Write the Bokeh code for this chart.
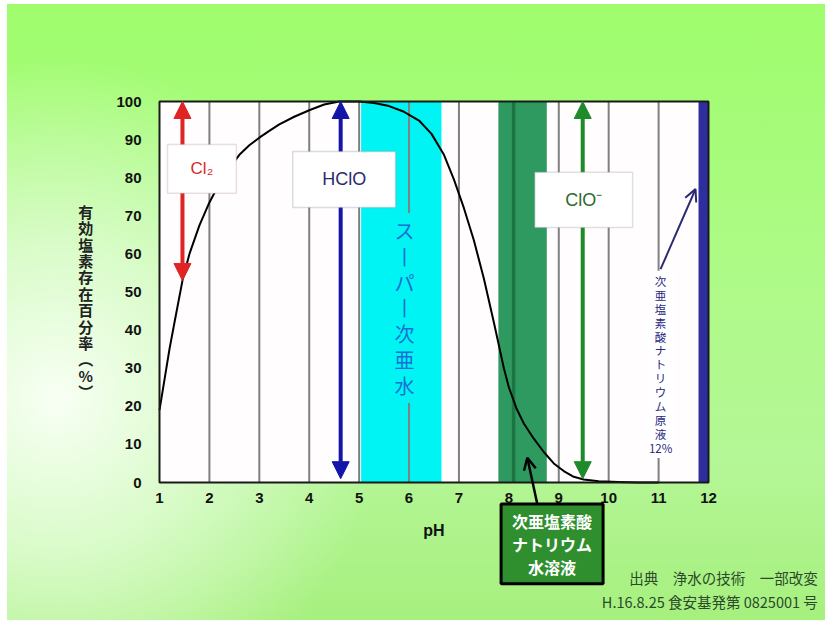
from bokeh.plotting import figure
from bokeh.models import (Range1d, FixedTicker, Label, Arrow, NormalHead, OpenHead,
                          BoxAnnotation, LinearAxis)
from bokeh.embed import file_html
from bokeh.resources import INLINE

# ---------------- data ----------------
ph = [1.0, 1.1, 1.2, 1.3, 1.46, 1.6, 1.8, 2.0, 2.2, 2.4, 2.6, 2.8, 3.0, 3.2, 3.4,
      3.7, 4.0, 4.3, 4.6, 5.0, 5.3, 5.6, 5.9, 6.2, 6.45, 6.7, 6.9, 7.1, 7.3, 7.5,
      7.7, 7.9, 8.0, 8.15, 8.3, 8.5, 8.7, 8.9, 9.1, 9.3, 9.5, 9.8, 10.2, 10.6, 11.0]
pct = [19, 27, 35, 42, 53, 60, 67.5, 73.5, 78.5, 82.5, 86, 88.5, 90.5, 92.3, 94,
       96, 97.7, 99.2, 100, 100, 99.6, 98.8, 97.3, 95, 91.5, 86, 79.5, 72, 63.5, 53.5,
       42, 30, 25, 19.5, 15.5, 11.5, 8, 5, 3, 1.5, 0.8, 0.3, 0.1, 0, 0]

x_ticks = list(range(1, 13))
y_ticks = list(range(0, 101, 10))
grid_ph = [2, 3, 4, 5, 6, 7, 9, 10, 11]

super_band = [5.04, 6.65]      # スーパー次亜水
naclo_band = [7.79, 8.76]      # 次亜塩素酸ナトリウム水溶液
naclo_line = [8.06, 8.13]
stock_band = [11.8, 12.0]      # 原液 12%

cl2_ph, cl2_range = 1.46, [53, 100]
hclo_ph, hclo_range = 4.63, [1, 100]
clo_ph, clo_range = 9.48, [1, 100]

cl2_box = [1.16, 2.54, 75.9, 88.7]
hclo_box = [3.67, 5.73, 72.2, 86.9]
clo_box = [8.52, 10.48, 66.9, 81.4]

JP = "Noto Sans CJK JP"
LAT = "Liberation Sans"

# frame covers the whole canvas; pH 1..12 -> 549 px, 0..100 % -> 381 px
PX_X = 549 / 11
PX_Y = 381 / 100
x0 = 1 - 152 / PX_X
y1 = 100 + 97 / PX_Y
y0 = -138 / PX_Y

p = figure(width=818, height=616,
           x_range=Range1d(x0, x0 + 818 / PX_X), y_range=Range1d(y0, y1),
           output_backend="svg", toolbar_location=None,
           x_axis_location=None, y_axis_location=None,
           min_border=0, min_border_left=0, min_border_right=0,
           min_border_top=0, min_border_bottom=0)
p.border_fill_color = None
p.background_fill_color = None
p.outline_line_color = None
p.xgrid.visible = False
p.ygrid.visible = False
p.styles = {
    "margin-left": "7px",
    "margin-top": "4px",
    "background": "radial-gradient(ellipse 40% 55% at 6% 64%, rgba(248,255,244,1) 0%, rgba(222,252,208,0.9) 45%, rgba(180,248,150,0) 100%), "
                  "linear-gradient(180deg, #9ffd6c 0%, #aefa88 45%, #b4f696 75%, #a6f07e 100%)",
}

# axes (fixed at the plot area's edges)
xaxis = LinearAxis(fixed_location=0, bounds=(1, 12), ticker=FixedTicker(ticks=x_ticks))
yaxis = LinearAxis(fixed_location=1, bounds=(0, 100), ticker=FixedTicker(ticks=y_ticks))
for ax in (xaxis, yaxis):
    ax.axis_line_color = None
    ax.major_tick_line_color = None
    ax.minor_tick_line_color = None
    ax.major_label_text_font = LAT
    ax.major_label_text_font_size = "15px"
    ax.major_label_text_font_style = "bold"
    ax.major_label_text_color = "#111111"
xaxis.major_label_standoff = 4
yaxis.major_label_standoff = 12
xaxis.axis_label = "pH"
xaxis.axis_label_text_font = LAT
xaxis.axis_label_text_font_style = "bold"
xaxis.axis_label_text_font_size = "16px"
xaxis.axis_label_text_color = "#111111"
xaxis.axis_label_standoff = 16
p.add_layout(xaxis, "below")
p.add_layout(yaxis, "left")

# plot area
p.quad(left=[x_ticks[0]], right=[x_ticks[-1]], bottom=[y_ticks[0]], top=[y_ticks[-1]],
       fill_color="#fffdfd", line_color=None, level="image")

# bands
p.quad(left=[super_band[0]], right=[super_band[1]], bottom=[0], top=[100],
       fill_color="#00f4f4", line_color=None, level="image")
p.quad(left=[naclo_band[0]], right=[naclo_band[1]], bottom=[0], top=[100],
       fill_color="#2f9a60", line_color=None, level="image")
p.quad(left=[naclo_line[0]], right=[naclo_line[1]], bottom=[0], top=[100],
       fill_color="#1d7443", line_color=None, level="image")

# vertical grid lines
p.segment(x0=grid_ph, y0=[0] * len(grid_ph), x1=grid_ph, y1=[100] * len(grid_ph),
          line_color="#808080", line_width=2, level="underlay")

p.quad(left=[stock_band[0]], right=[stock_band[1]], bottom=[0], top=[100],
       fill_color="#2e2e9e", line_color=None)

# curve
p.line(ph, pct, line_color="black", line_width=2, line_join="round")

# plot border
p.quad(left=[x_ticks[0]], right=[x_ticks[-1]], bottom=[y_ticks[0]], top=[y_ticks[-1]],
       fill_color=None, line_color="#1a1a1a", line_width=2)

# double arrows
def dbl_arrow(x, rng, color, size=17):
    a = Arrow(x_start=x, y_start=rng[0], x_end=x, y_end=rng[1],
              line_color=color, line_width=4,
              start=NormalHead(size=size, fill_color=color, line_color=color),
              end=NormalHead(size=size, fill_color=color, line_color=color))
    p.add_layout(a)

dbl_arrow(cl2_ph, cl2_range, "#e02424")
dbl_arrow(hclo_ph, hclo_range, "#1414a8")
dbl_arrow(clo_ph, clo_range, "#1f8a2a")

# pointer arrows
p.add_layout(Arrow(x_start=8.575, y_start=-6, x_end=8.37, y_end=6.5,
                   line_color="black", line_width=2.5,
                   end=OpenHead(size=12, line_color="black", line_width=2.5)))
p.add_layout(Arrow(x_start=11.04, y_start=56, x_end=11.74, y_end=77,
                   line_color="#2a2a70", line_width=2,
                   end=OpenHead(size=12, line_color="#2a2a70", line_width=2)))

# boxes
for (l, r, b, t), lc in ((cl2_box, "#b89494"), (hclo_box, "#8a8a9a"), (clo_box, "#9a9a9a")):
    p.add_layout(BoxAnnotation(left=l, right=r, bottom=b, top=t, fill_color="white",
                               fill_alpha=1, line_color=lc, line_width=1.5))

def lab(x, y, text, **kw):
    p.add_layout(Label(x=x, y=y, text=text, text_align=kw.pop("align", "center"),
                       text_baseline="middle", **kw))

lab((cl2_box[0] + cl2_box[1]) / 2, (cl2_box[2] + cl2_box[3]) / 2, "Cl₂",
    text_font=LAT, text_font_size="17px", text_color="#d42a2a")
lab((hclo_box[0] + hclo_box[1]) / 2, (hclo_box[2] + hclo_box[3]) / 2, "HClO",
    text_font=LAT, text_font_size="18px", text_color="#2b2b6b")
lab((clo_box[0] + clo_box[1]) / 2, (clo_box[2] + clo_box[3]) / 2, "ClO⁻",
    text_font=LAT, text_font_size="18px", text_color="#2d6b2d")

lab(5.91, 45.8, "\n".join(["ス", "丨", "パ", "丨", "次", "亜", "水"]),
    text_font=JP, text_font_size="20px", text_color="#1a6fd0", text_line_height=0.89,
    background_fill_color="#00f4f4", padding=3)

lab(11.04, 31, "\n".join(list("次亜塩素酸ナトリウム原液") + ["12%"]),
    text_font=JP, text_font_size="11.5px", text_color="#2a2a80", text_line_height=0.87,
    background_fill_color="white", padding=2)

lab(-0.48, 47.5, "\n".join(list("有効塩素存在百分率") + ["︵", "%", "︶"]),
    text_font=JP, text_font_size="15px", text_color="#222222", text_line_height=0.78,
    text_font_style="bold")

lab(8.866, -16.1, "次亜塩素酸\nナトリウム\n水溶液",
    text_font=JP, text_font_size="16px", text_font_style="bold", text_color="white",
    text_line_height=0.95, background_fill_color="#2f8f2f", border_line_color="black",
    border_line_width=3, padding={"left": 11, "right": 11, "top": 5, "bottom": 5})

lab(14.19, -25.0, "出典　浄水の技術　一部改変", align="right",
    text_font=JP, text_font_size="14.5px", text_color="#2a4a2a")
lab(14.19, -31.3, "H.16.8.25 食安基発第 0825001 号", align="right",
    text_font=JP, text_font_size="14.5px", text_color="#2a4a2a")

open("out.html", "w").write(file_html(p, INLINE))
